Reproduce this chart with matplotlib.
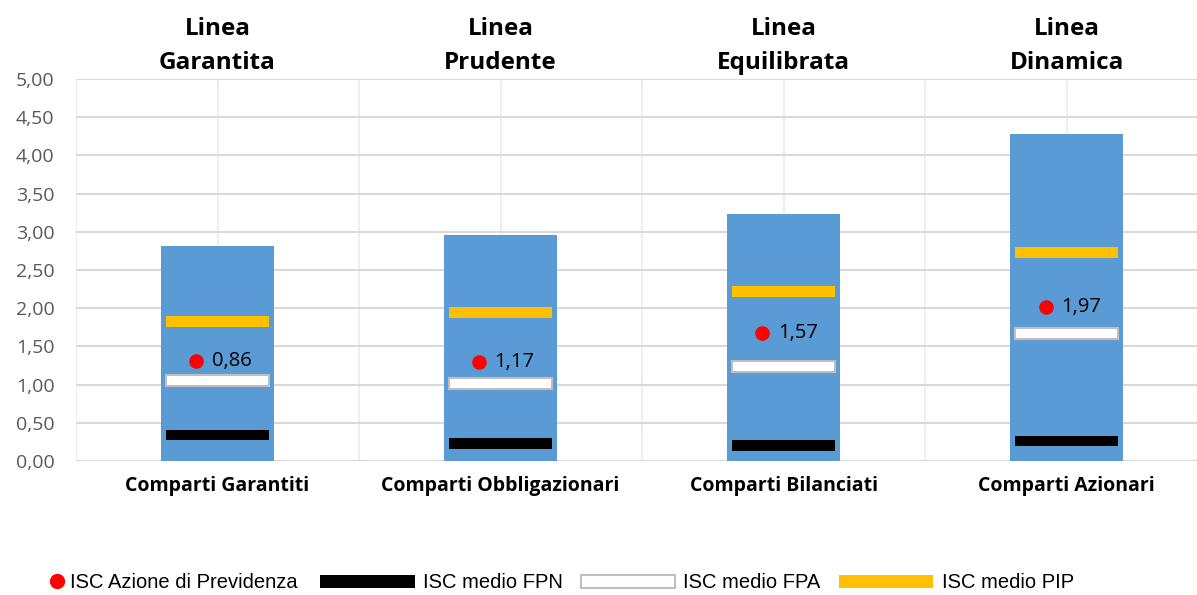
import matplotlib
matplotlib.use("Agg")
import matplotlib.pyplot as plt
from matplotlib.ticker import FuncFormatter, MultipleLocator
from matplotlib.patches import Patch
from matplotlib.lines import Line2D

# dati
categorie = ["Comparti Garantiti", "Comparti Obbligazionari", "Comparti Bilanciati", "Comparti Azionari"]
titoli = ["Linea\nGarantita", "Linea\nPrudente", "Linea\nEquilibrata", "Linea\nDinamica"]
isc_max = [2.82, 2.96, 3.23, 4.28]          # barra blu (range)
isc_pip = [1.83, 1.94, 2.22, 2.73]
isc_fpa = [1.05, 1.01, 1.24, 1.67]
isc_fpn = [0.34, 0.23, 0.20, 0.26]
isc_azione_pos = [1.31, 1.30, 1.67, 2.01]  # posizione del punto rosso
isc_azione_lbl = [0.86, 1.17, 1.57, 1.97]  # etichetta mostrata

blu = "#5b9bd5"
giallo = "#ffc000"
grigio = "#bfbfbf"
font = ["Open Sans", "DejaVu Sans"]

fig = plt.figure(figsize=(11.97, 5.95), dpi=100)
ax = fig.add_axes([76 / 1197, 134 / 595, 1 - 76 / 1197, 382 / 595])

x = range(len(categorie))
ax.bar(x, isc_max, width=0.4, color=blu, zorder=2)

thick = 0.14
wm = 0.365
ax.bar(x, [thick] * 4, bottom=[v - thick / 2 for v in isc_pip], width=wm, color=giallo, zorder=3)
ax.bar(x, [thick] * 4, bottom=[v - thick / 2 for v in isc_fpa], width=wm, color="white",
       edgecolor=grigio, linewidth=1.5, zorder=3)
ax.bar(x, [thick] * 4, bottom=[v - thick / 2 for v in isc_fpn], width=wm, color="black", zorder=3)

xs = [i - 0.075 for i in x]
ax.scatter(xs, isc_azione_pos, s=110, color="red", zorder=4, linewidths=0)
for xi, y, lab in zip(xs, isc_azione_pos, isc_azione_lbl):
    ax.annotate(f"{lab:.2f}".replace(".", ","), (xi, y), xytext=(11, 0), textcoords="offset points",
                va="center", ha="left", fontsize=14.5, family=font, color="black", zorder=5)

# titoli di linea sopra le colonne
for i, t in enumerate(titoli):
    ax.text(i, 5.05, t, ha="center", va="bottom", fontsize=17.5, fontweight="bold",
            family=font, linespacing=1.55)

ax.set_ylim(0, 5)
ax.set_xlim(-0.5, 3.46)
ax.yaxis.set_major_locator(MultipleLocator(0.5))
ax.yaxis.set_major_formatter(FuncFormatter(lambda v, p: f"{v:.2f}".replace(".", ",")))
ax.set_xticks(list(x))
ax.set_xticklabels(categorie, fontsize=14, fontweight="bold", family=font)
ax.tick_params(axis="x", length=0, pad=11)
ax.tick_params(axis="y", length=0, pad=15.5, labelsize=14, labelcolor="#595959")
for lab in ax.get_yticklabels():
    lab.set_family(font)

ax.grid(axis="y", color="#d9d9d9", linewidth=1.5, zorder=0)
for v in [-0.5, 0, 0.5, 1, 1.5, 2, 2.5, 3]:
    ax.axvline(v, color="#eeeeee", linewidth=1.5, zorder=0)
for s in ax.spines.values():
    s.set_visible(False)
ax.axhline(0, color="#d9d9d9", linewidth=1.5, zorder=1)

# legenda
leg_prop = {"family": ["Liberation Sans", "DejaVu Sans"], "size": 14.5}
leg1 = fig.legend(handles=[Line2D([], [], marker="o", color="red", linestyle="none", markersize=10)],
                  labels=["ISC Azione di Previdenza"], loc="center left",
                  bbox_to_anchor=(47 / 1197, 12 / 595), frameon=False, handlelength=1,
                  handletextpad=0.15, borderpad=0, borderaxespad=0, prop=leg_prop)
h2 = [Patch(facecolor="black"), Patch(facecolor="white", edgecolor=grigio, linewidth=1.5),
      Patch(facecolor=giallo)]
leg2 = fig.legend(handles=h2, labels=["ISC medio FPN", "ISC medio FPA", "ISC medio PIP"],
                  loc="center left", bbox_to_anchor=(320 / 1197, 12 / 595), ncol=3, frameon=False,
                  handlelength=4.7, handleheight=0.6, handletextpad=0.4, columnspacing=0.9,
                  borderpad=0, borderaxespad=0, prop=leg_prop)

fig.savefig("out.png", dpi=100)
